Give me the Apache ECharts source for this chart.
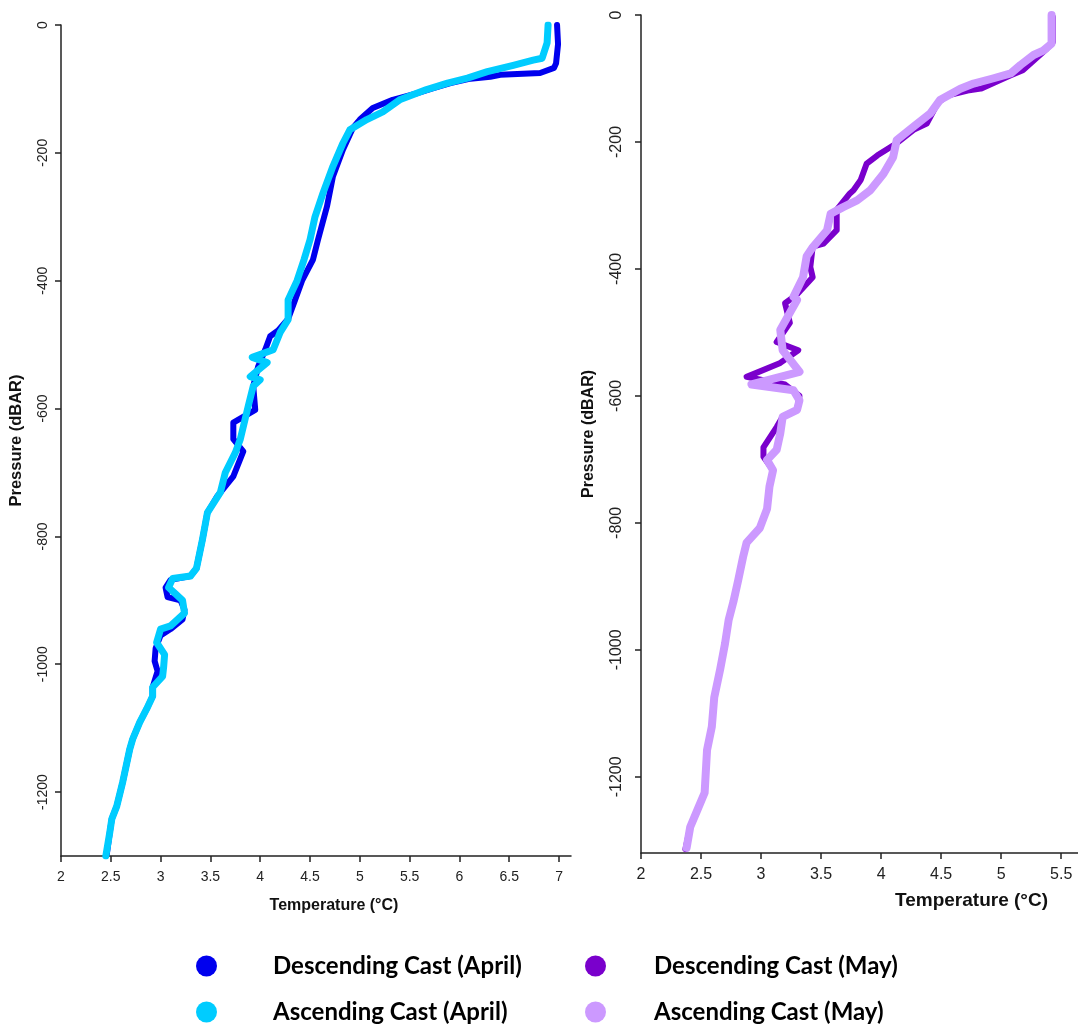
<!DOCTYPE html>
<html>
<head>
<meta charset="utf-8">
<script src="https://cdn.jsdelivr.net/npm/echarts@6/dist/echarts.min.js"></script>
<style>
html,body{margin:0;padding:0;background:#fff;}
#chart{width:1078px;height:1025px;}
</style>
</head>
<body>
<div id="chart"></div>
<script>
// ---- Data ----
var aprDescTemp = [6.98,6.99,6.97,6.95,6.81,6.41,6.31,6.11,5.91,5.73,5.57,5.33,5.13,5.00,4.93,4.83,4.73,4.67,4.58,4.53,4.42,4.35,4.28,4.18,4.10,4.05,3.98,3.93,3.95,3.73,3.73,3.83,3.73,3.57,3.47,3.42,3.36,3.30,3.10,3.05,3.07,3.20,3.24,3.22,3.10,3.00,2.95,2.94,2.97,2.92,2.92,2.86,2.79,2.72,2.69,2.62,2.56,2.51,2.49,2.46];
var aprDescPres = [0,-30,-60,-67,-75,-78,-81,-84,-91,-99,-107,-117,-130,-148,-161,-195,-237,-284,-336,-367,-400,-430,-460,-478,-487,-508,-534,-565,-602,-622,-648,-667,-706,-737,-763,-805,-850,-862,-868,-880,-895,-900,-915,-930,-945,-955,-975,-995,-1011,-1036,-1050,-1070,-1091,-1117,-1133,-1184,-1222,-1242,-1263,-1297];

var aprAscTemp = [6.89,6.88,6.83,6.74,6.54,6.28,6.08,5.88,5.67,5.40,5.23,5.07,4.90,4.83,4.73,4.63,4.55,4.50,4.44,4.37,4.28,4.28,4.20,4.13,3.92,4.07,3.90,4.00,3.93,3.88,3.80,3.75,3.65,3.60,3.47,3.42,3.36,3.30,3.12,3.08,3.15,3.22,3.24,3.10,3.00,2.96,3.04,3.03,3.02,2.92,2.92,2.86,2.79,2.72,2.69,2.62,2.56,2.51,2.49,2.45];
var aprAscPres = [0,-28,-52,-55,-63,-73,-83,-91,-101,-117,-136,-148,-164,-185,-221,-263,-300,-336,-367,-400,-430,-461,-481,-508,-520,-528,-550,-555,-565,-596,-648,-669,-700,-731,-763,-805,-850,-862,-866,-880,-890,-900,-920,-940,-945,-966,-985,-1005,-1019,-1036,-1050,-1070,-1091,-1117,-1133,-1184,-1222,-1242,-1263,-1300];

var mayDescTemp = [5.43,5.43,5.38,5.18,5.08,4.83,4.72,4.55,4.47,4.38,4.27,4.13,3.97,3.88,3.83,3.77,3.74,3.63,3.63,3.52,3.43,3.41,3.43,3.30,3.20,3.24,3.13,3.31,3.16,2.88,3.20,3.32,3.30,3.18,3.13,3.02,3.02,3.10,3.07,3.05,2.99,2.88,2.85,2.81,2.77,2.73,2.70,2.66,2.61,2.59,2.55,2.53,2.47,2.41,2.37];
var mayDescPres = [-3,-43,-53,-87,-95,-116,-119,-127,-139,-171,-181,-202,-221,-234,-260,-276,-281,-307,-339,-360,-365,-397,-413,-440,-454,-485,-515,-528,-548,-570,-582,-600,-622,-633,-649,-681,-696,-717,-743,-778,-808,-831,-854,-890,-924,-953,-990,-1030,-1075,-1121,-1158,-1225,-1252,-1279,-1314];

var mayAscTemp = [5.42,5.42,5.35,5.27,5.16,5.08,4.93,4.77,4.66,4.49,4.41,4.27,4.13,4.10,4.02,3.91,3.80,3.68,3.58,3.55,3.43,3.38,3.35,3.27,3.30,3.16,3.18,3.32,2.92,3.27,3.32,3.30,3.18,3.16,3.13,3.05,3.10,3.07,3.05,2.99,2.88,2.85,2.81,2.77,2.73,2.70,2.66,2.61,2.59,2.55,2.53,2.47,2.41,2.38];
var mayAscPres = [0,-45,-56,-63,-79,-92,-100,-108,-116,-134,-155,-176,-197,-224,-250,-276,-292,-303,-313,-339,-366,-380,-413,-444,-449,-496,-528,-562,-582,-591,-607,-622,-633,-659,-685,-701,-717,-743,-778,-808,-831,-854,-890,-924,-953,-990,-1030,-1075,-1121,-1158,-1225,-1252,-1279,-1312];

var aprTempTicks = [2,2.5,3,3.5,4,4.5,5,5.5,6,6.5,7];
var mayTempTicks = [2,2.5,3,3.5,4,4.5,5,5.5];
var aprPresTicks = [0,-200,-400,-600,-800,-1000,-1200];
var mayPresTicks = [0,-200,-400,-600,-800,-1000,-1200];

var seriesNames = ['Descending Cast (April)','Ascending Cast (April)','Descending Cast (May)','Ascending Cast (May)'];
var seriesColors = ['#0000ee','#00ccff','#7a00cc','#cc99ff'];
var xTitle = 'Temperature (°C)';
var yTitle = 'Pressure (dBAR)';

function zip(a,b){ var r=[]; for(var i=0;i<a.length;i++){ r.push([a[i],b[i]]); } return r; }

var axisColor = '#222';
var fontFam = '"Liberation Sans", Arial, sans-serif';
var ellipse = 'path://M50,0A50,50,0,1,1,50,100A50,50,0,1,1,50,0z';
function plain(v){ return String(v); }

function xAx(gi, max, ticks, fs, nfs, gap, pad){
  return {
    gridIndex: gi, type: 'value', min: 2, max: max,
    axisLine: {show:true, onZero:false, lineStyle:{color:axisColor, width:1.5}},
    axisTick: {show:true, length:6, customValues: ticks, lineStyle:{color:axisColor, width:1.5}},
    axisLabel: {customValues: ticks, formatter: plain, color:axisColor, fontSize: fs, fontFamily: fontFam, margin: 14},
    splitLine: {show:false},
    name: xTitle, nameLocation: 'middle', nameGap: gap,
    nameTextStyle: {color:'#111', fontSize:nfs, fontWeight:'bold', fontFamily: fontFam, padding: pad}
  };
}
function yAx(gi, min, ticks, fs, nfs, gap, margin){
  return {
    gridIndex: gi, type: 'value', min: min, max: 0,
    axisLine: {show:true, onZero:false, lineStyle:{color:axisColor, width:1.5}},
    axisTick: {show:true, length:6, customValues: ticks, lineStyle:{color:axisColor, width:1.5}},
    axisLabel: {customValues: ticks, formatter: plain, color:axisColor, fontSize: fs, fontFamily: fontFam, rotate: 90, margin: margin},
    splitLine: {show:false},
    name: yTitle, nameLocation: 'middle', nameGap: gap, nameRotate: 90,
    nameTextStyle: {color:'#111', fontSize:nfs, fontWeight:'bold', fontFamily: fontFam}
  };
}
function lineSeries(idx, gi, data, width, z){
  return {
    name: seriesNames[idx], type: 'line', xAxisIndex: gi, yAxisIndex: gi,
    data: data, showSymbol: false, symbol: 'none', smooth: false, z: z,
    color: seriesColors[idx],
    itemStyle: {color: seriesColors[idx]},
    lineStyle: {color: seriesColors[idx], width: width, cap: 'round', join: 'round'},
    animation: false
  };
}
function legendCol(names, left, textPad){
  return {
    data: names, orient: 'vertical', left: left, top: 953, padding: 0,
    icon: ellipse, itemWidth: 21, itemHeight: 26, itemGap: 20, selectedMode: false,
    textStyle: {fontFamily: 'Lato, "Open Sans", sans-serif', fontWeight: 'bold', fontSize: 24, lineHeight: 26, color: '#000', padding: [0,0,0,textPad]}
  };
}

var chart = echarts.init(document.getElementById('chart'), null, {renderer:'canvas'});
chart.setOption({
  backgroundColor: '#fff',
  animation: false,
  grid: [
    {left: 61, top: 25, width: 510, height: 831},
    {left: 641, top: 15, width: 437, height: 838}
  ],
  xAxis: [
    xAx(0, 7.12, aprTempTicks, 14, 16, 42, [0,0,0,36]),
    xAx(1, 5.64, mayTempTicks, 16, 19, 38, [0,0,0,224])
  ],
  yAxis: [
    yAx(0, -1300, aprPresTicks, 14, 16.5, 36, 11),
    yAx(1, -1320, mayPresTicks, 16, 16, 44, 16)
  ],
  legend: [
    legendCol([seriesNames[0], seriesNames[1]], 196, 51),
    legendCol([seriesNames[2], seriesNames[3]], 585, 43)
  ],
  series: [
    lineSeries(0, 0, zip(aprDescTemp, aprDescPres), 6, 2),
    lineSeries(1, 0, zip(aprAscTemp, aprAscPres), 7, 3),
    lineSeries(2, 1, zip(mayDescTemp, mayDescPres), 6, 2),
    lineSeries(3, 1, zip(mayAscTemp, mayAscPres), 8, 3)
  ]
});
</script>
</body>
</html>
